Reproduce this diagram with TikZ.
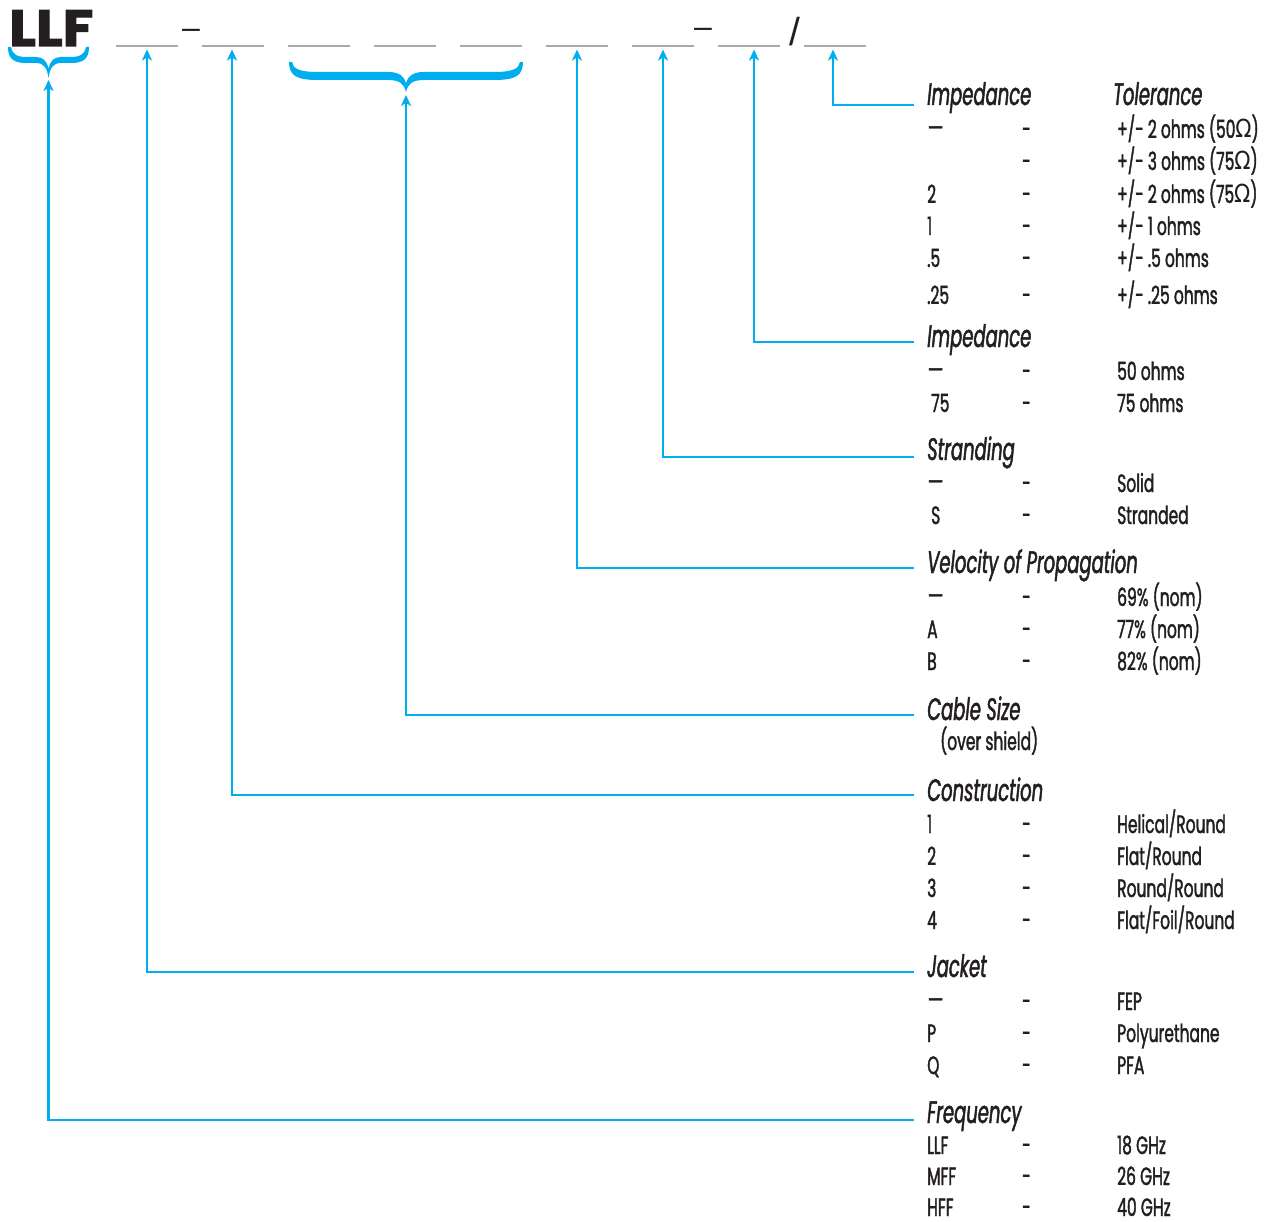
\documentclass[tikz,border=0pt]{standalone}
\usepackage{fontspec}
\setmainfont{Poppins}[FakeStretch=0.62,FakeBold=1.5]
\newfontfamily\headfont{Poppins}[FakeStretch=0.58,FakeBold=1.5]
\newfontfamily\titlefont{Poppins}[FakeStretch=1.1,FakeBold=2]
\newfontfamily\symfont{Liberation Sans}
\newfontfamily\omfont{DejaVu Sans}[FakeStretch=0.85]
\usetikzlibrary{arrows.meta}
\definecolor{cy}{HTML}{00AEEF}
\definecolor{ink}{HTML}{231F20}
\definecolor{bl}{HTML}{A7A9AC}
\newcommand{\Om}{{\omfont Ω}}
\newcommand{\dsh}{\raisebox{1.5pt}{\scalebox{1.6}[1.0]{–}}}
\begin{document}
\begin{tikzpicture}[x=1pt,y=-1pt,
  conn/.style={draw=cy,line width=2.5pt,-{Stealth[length=11pt,width=10pt,inset=3pt]}},
  blank/.style={fill=bl,minimum width=62pt,minimum height=2.6pt,inner sep=0pt},
  head/.style={anchor=base west,inner sep=0pt,text=ink,font=\headfont\fontsize{31}{31}\selectfont\itshape},
  row/.style={anchor=base west,inner sep=0pt,text=ink,font=\fontsize{25}{25}\selectfont},
  sym/.style={anchor=base west,inner sep=0pt,text=ink}]
\useasboundingbox (0,0) rectangle (1273,1222);
\fill[white] (0,0) rectangle (1273,1222);

\newcommand{\rowat}[4]{%
  \node[row] (#1a) at (927,#2) {#3};
  \node[row] (#1b) at (1022,#2) {-};
  \node[row] (#1c) at (1117,#2) {#4};}

% part number
\node[sym,font=\titlefont\bfseries\fontsize{51}{51}\selectfont] (llf) at (9,46) {LLF};
\foreach \i/\x in {1/147,2/233,3/319,4/405,5/491,6/577,7/663,8/749,9/835}
  \node[blank] (b\i) at (\x,46) {};
\node[sym,font=\symfont\fontsize{32}{32}\selectfont] (d1) at (182,39) {–};
\node[sym,font=\symfont\fontsize{32}{32}\selectfont] (d2) at (694,38) {–};
\node[sym,font=\symfont\fontsize{39}{39}\selectfont] (sl) at (789,46) {/};

% braces
\fill[cy] (8,47) .. controls (8,59) and (14,63) .. (26,63) -- (36,63) .. controls (44,63) and (47,68) .. (48.5,78)
 .. controls (50,68) and (53,63) .. (61,63) -- (71,63) .. controls (83,63) and (89,59) .. (89,47)
 -- (86,47) .. controls (85,54) and (80,57) .. (71,57) -- (61,57) .. controls (54,57) and (50,61) .. (48.5,69)
 .. controls (47,61) and (43,57) .. (36,57) -- (26,57) .. controls (17,57) and (12,54) .. (11,47) -- cycle;
\fill[cy] (289,62) .. controls (289,76) and (297,80) .. (318,80) -- (388,80) .. controls (400,80) and (404,84) .. (406,92)
 .. controls (408,84) and (412,80) .. (424,80) -- (494,80) .. controls (515,80) and (523,76) .. (523,62)
 -- (520,62) .. controls (519,69) and (512,72) .. (494,72) -- (424,72) .. controls (413,72) and (408,76) .. (406,83)
 .. controls (404,76) and (399,72) .. (388,72) -- (318,72) .. controls (300,72) and (293,69) .. (292,62) -- cycle;
\coordinate (llftip) at (48.5,80);
\coordinate (brtip) at (406,95);

% headings
\node[head] (hTolImp) at (927,105) {Impedance};
\node[head] (hTol) at (1113,105) {Tolerance};
\node[head] (hImp) at (927,347) {Impedance};
\node[head] (hStr) at (927,460) {Stranding};
\node[head] (hVel) at (927,573) {Velocity of Propagation};
\node[head] (hCab) at (927,720) {Cable Size};
\node[row] (hCabSub) at (940,750) {(over shield)};
\node[head] (hCon) at (927,801) {Construction};
\node[head] (hJac) at (927,977) {Jacket};
\node[head] (hFrq) at (927,1123) {Frequency};

% rows
\rowat{t1}{138}{\dsh}{+/- 2 ohms (50\Om)}
\rowat{t2}{170}{}{+/- 3 ohms (75\Om)}
\rowat{t3}{203}{2}{+/- 2 ohms (75\Om)}
\rowat{t4}{235}{1}{+/- 1 ohms}
\rowat{t5}{267}{.5}{+/- .5 ohms}
\rowat{t6}{304}{.25}{+/- .25 ohms}
\rowat{i1}{380}{\dsh}{50 ohms}
\rowat{i2}{412}{\hspace{4pt}75}{75 ohms}
\rowat{s1}{492}{\dsh}{Solid}
\rowat{s2}{524}{\hspace{4pt}S}{Stranded}
\rowat{v1}{606}{\dsh}{69\% (nom)}
\rowat{v2}{638}{A}{77\% (nom)}
\rowat{v3}{670}{B}{82\% (nom)}
\rowat{c1}{833}{1}{Helical/Round}
\rowat{c2}{865}{2}{Flat/Round}
\rowat{c3}{897}{3}{Round/Round}
\rowat{c4}{929}{4}{Flat/Foil/Round}
\rowat{j1}{1010}{\dsh}{FEP}
\rowat{j2}{1042}{P}{Polyurethane}
\rowat{j3}{1074}{Q}{PFA}
\rowat{f1}{1154}{LLF}{18 GHz}
\rowat{f2}{1185}{MFF}{26 GHz}
\rowat{f3}{1216}{HFF}{40 GHz}

% connectors
\coordinate (e1) at (914,105);
\coordinate (e2) at (914,342);
\coordinate (e3) at (914,457);
\coordinate (e4) at (914,568);
\coordinate (e5) at (914,715);
\coordinate (e6) at (914,795);
\coordinate (e7) at (914,972);
\coordinate (e8) at (914,1120);
\draw[conn,shorten >=2pt] (e1) -| ([xshift=-2pt]b9.south);
\draw[conn,shorten >=2pt] (e2) -| ([xshift=5pt]b8.south);
\draw[conn,shorten >=2pt] (e3) -| (b7.south);
\draw[conn,shorten >=2pt] (e4) -| (b6.south);
\draw[conn] (e5) -| (brtip);
\draw[conn,shorten >=2pt] (e6) -| ([xshift=-1pt]b2.south);
\draw[conn,shorten >=2pt] (e7) -| (b1.south);
\draw[conn] (e8) -| (llftip);
\end{tikzpicture}
\end{document}
